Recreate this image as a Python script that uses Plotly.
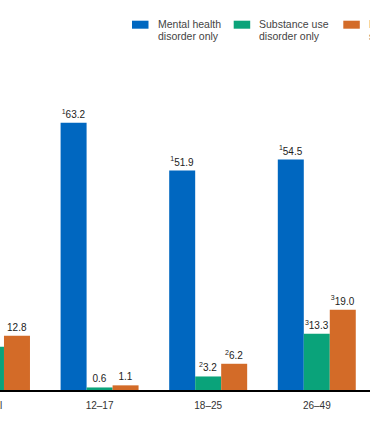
import plotly.graph_objects as go

# ---- data ----
categories = ["Total", "12–17", "18–25", "26–49"]
mental_only = [None, 63.2, 51.9, 54.5]
substance_only = [10.2, 0.6, 3.2, 13.3]
both = [12.8, 1.1, 6.2, 19.0]
mental_sup = ["", "1", "1", "1"]
substance_sup = ["", "", "2", "3"]
both_sup = ["", "", "2", "3"]
series_names = ["Mental health disorder only", "Substance use disorder only",
                "Both mental health and substance use disorders"]
legend_lines = [["Mental health", "disorder only"],
                ["Substance use", "disorder only"],
                ["Both mental health and", "substance use disorders"]]
colors = ["#0067C0", "#0AA37A", "#D36B28"]

W, H = 370, 424
MT, MB = 94, 34
FONT = "Arial, Liberation Sans, sans-serif"


def labels(vals, sups):
    out = []
    for v, s in zip(vals, sups):
        if v is None:
            out.append("")
        elif s:
            out.append(f"<sup>{s}</sup>{v:.1f}")
        else:
            out.append(f"{v:.1f}")
    return out


fig = go.Figure()
for name, vals, sups, col in zip(series_names,
                                 [mental_only, substance_only, both],
                                 [mental_sup, substance_sup, both_sup],
                                 colors):
    fig.add_trace(go.Bar(
        x=categories, y=vals, name=name, marker_color=col,
        marker_line_width=0,
        text=labels(vals, sups), textposition="outside",
        textfont=dict(family=FONT, size=10, color="#222222"),
        cliponaxis=False, showlegend=False,
    ))

# plot-area helpers for legend placement (pixels -> paper)
plot_h = H - MT - MB


def py(y):
    return (H - MB - y) / plot_h


def px(x):
    return x / W


shapes = []
annotations = []
leg_x = [132, 233.7, 343.3]
for i, (col, lines) in enumerate(zip(colors, legend_lines)):
    x0 = leg_x[i]
    shapes.append(dict(type="rect", xref="paper", yref="paper",
                       x0=px(x0), x1=px(x0 + 16.5), y0=py(28.7), y1=py(20.7),
                       fillcolor=col, line=dict(width=0)))
    for j, line in enumerate(lines):
        annotations.append(dict(
            text=line, xref="paper", yref="paper", x=px(x0 + 23.5),
            y=py(24.3 + j * 11.8), xanchor="left", yanchor="middle",
            showarrow=False, font=dict(family=FONT, size=10.5, color="#444444")))

# first category label lies just outside the visible axis range
annotations.append(dict(text=categories[0], xref="paper", yref="paper",
                        x=px(-9), y=py(405), xanchor="center",
                        yanchor="middle", showarrow=False,
                        font=dict(family=FONT, size=10, color="#333333")))

fig.update_layout(
    width=W, height=H,
    margin=dict(l=0, r=0, t=MT, b=MB, pad=0),
    barmode="group", bargap=0.282, bargroupgap=0,
    plot_bgcolor="white", paper_bgcolor="white",
    font=dict(family=FONT, size=10, color="#333333"),
    xaxis=dict(type="category", range=[0.083, 3.49], showline=True,
               linecolor="black", linewidth=1.5, ticks="", showgrid=False,
               ticklabelstandoff=5,
               tickfont=dict(family=FONT, size=10, color="#333333")),
    yaxis=dict(range=[0, 70], visible=False, showgrid=False),
    shapes=shapes, annotations=annotations,
)

fig.write_html("out.html",
               config={"displayModeBar": False},
               post_script="document.body.style.margin='0';"
                           "document.body.style.overflow='hidden';")
